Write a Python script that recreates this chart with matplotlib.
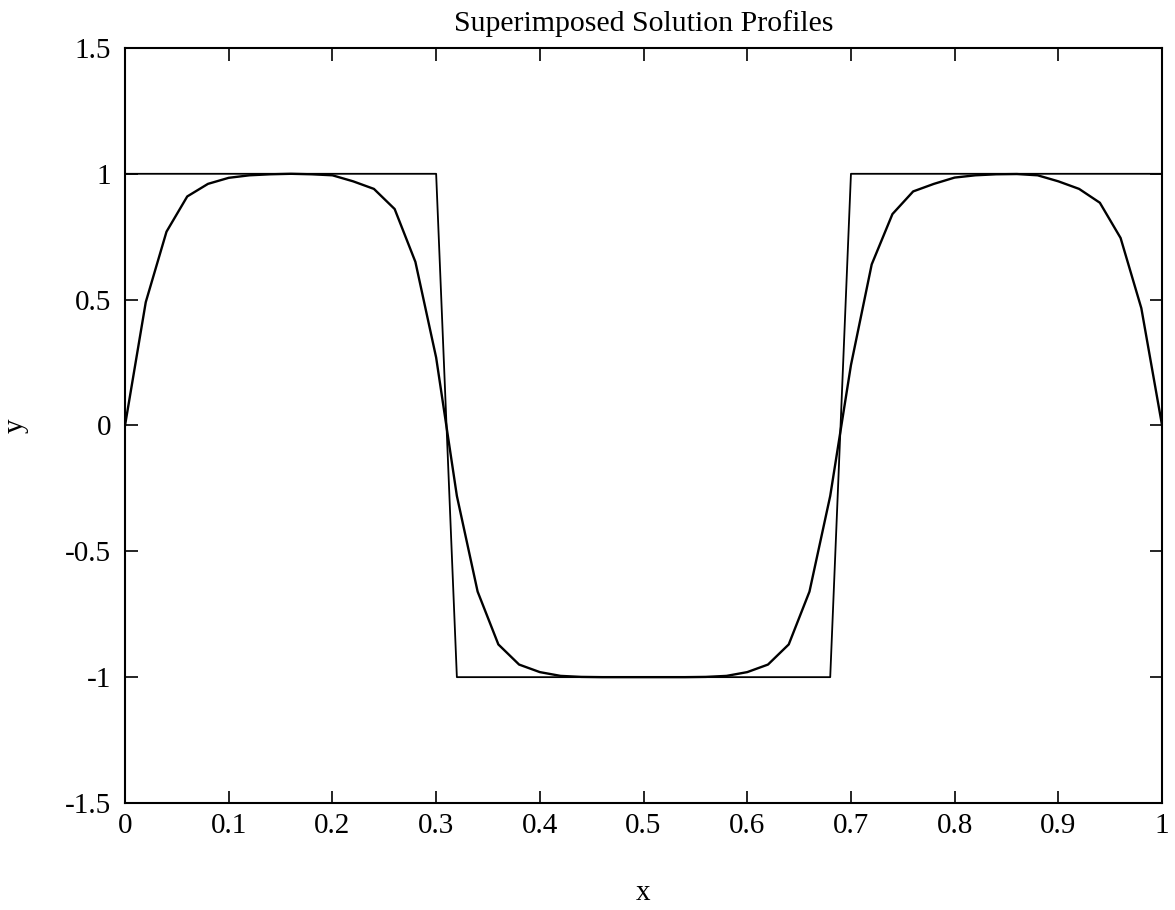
import numpy as np
import matplotlib
matplotlib.use("Agg")
import matplotlib.pyplot as plt

plt.rcParams['font.family'] = ['Liberation Serif', 'DejaVu Serif']

# initial profile (square wave)
x_init = [0.0, 0.30, 0.32, 0.68, 0.70, 1.0]
y_init = [1.0, 1.0, -1.0, -1.0, 1.0, 1.0]

# computed profile, sampled every 0.02
x_sol = np.linspace(0, 1, 51)
y_sol = [0.0, 0.49, 0.77, 0.91, 0.96, 0.984, 0.994, 0.998, 1.0, 0.998,
         0.994, 0.97, 0.94, 0.86, 0.65, 0.27, -0.28, -0.66, -0.87, -0.95,
         -0.98, -0.995, -0.999, -1.0, -1.0, -1.0, -1.0, -1.0, -0.999, -0.995,
         -0.98, -0.95, -0.87, -0.66, -0.28, 0.24, 0.64, 0.84, 0.93, 0.96,
         0.985, 0.994, 0.998, 0.999, 0.994, 0.97, 0.94, 0.885, 0.745, 0.466,
         0.0]

fig = plt.figure(figsize=(11.75, 9.10), dpi=100)
ax = fig.add_axes([0.1064, 0.1176, 0.8826, 0.8297])

ax.plot(x_init, y_init, color='black', linewidth=1.3)
ax.plot(x_sol, y_sol, color='black', linewidth=1.7)

ax.set_xlim(0, 1)
ax.set_ylim(-1.5, 1.5)
ax.set_xticks(np.arange(0, 1.01, 0.1))
ax.set_xticklabels(['0', '0.1', '0.2', '0.3', '0.4', '0.5', '0.6', '0.7', '0.8', '0.9', '1'])
ax.set_yticks(np.arange(-1.5, 1.51, 0.5))
ax.set_yticklabels(['-1.5', '-1', '-0.5', '0', '0.5', '1', '1.5'])
ax.tick_params(direction='in', length=9, width=1.2, top=True, right=True,
               labelsize=21)
ax.tick_params(axis='x', pad=7)
ax.tick_params(axis='y', pad=10)
for s in ax.spines.values():
    s.set_linewidth(1.5)

ax.set_title('Superimposed Solution Profiles', fontsize=21.5, pad=12)
ax.set_xlabel('x', fontsize=21, labelpad=30)
ax.set_ylabel('y', fontsize=21, labelpad=26)

fig.savefig('out.png', dpi=100)
